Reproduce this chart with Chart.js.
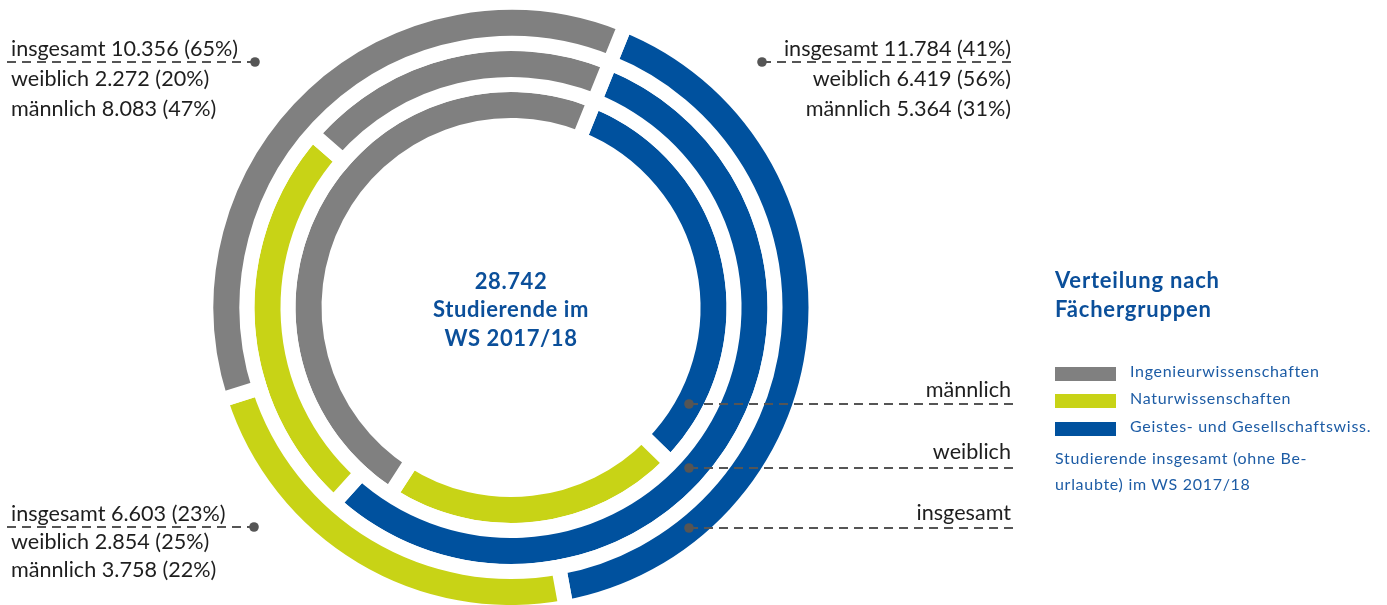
<!DOCTYPE html>
<html lang="de">
<head>
<meta charset="utf-8">
<title>Studierende nach Fächergruppen WS 2017/18</title>
<script src="https://cdn.jsdelivr.net/npm/chart.js@4.4.1/dist/chart.umd.min.js"></script>
<style>
  html, body { margin: 0; padding: 0; background: #fff; }
  body { width: 1387px; height: 605px; position: relative; overflow: hidden; font-family: Lato, "Open Sans", sans-serif; }
  #rings { position: absolute; left: 0; top: 0; }
  .t { position: absolute; white-space: nowrap; line-height: 1.2; }
  .lbl { font-size: 21.6px; color: #1e1e1e; }
  .center { font-size: 22px; font-weight: 700; color: #0b4f9a; letter-spacing: 0.6px; text-align: center; width: 300px; }
  .title { font-size: 22px; font-weight: 700; color: #0b4f9a; letter-spacing: 0.8px; }
  .leg { font-size: 16px; color: #1d5ca5; letter-spacing: 0.7px; }
  .sw { position: absolute; width: 61px; height: 14px; }
</style>
</head>
<body>
<canvas id="rings" width="1387" height="605"></canvas>
<script>
const categories = ["Ingenieurwissenschaften", "Naturwissenschaften", "Geistes- und Gesellschaftswiss."];
const colors = ["#808080", "#c8d316", "#00519e"];
const insgesamt = [10356, 6603, 11784];
const weiblich = [2272, 2854, 6419];
const maennlich = [8083, 3758, 5364];
const pctInsgesamt = [65, 23, 41];
const pctWeiblich = [20, 25, 56];
const pctMaennlich = [47, 22, 31];
const ringNames = ["insgesamt", "weiblich", "männlich"];
const total = 28742;
const semester = "WS 2017/18";
const footnote = ["Studierende insgesamt (ohne Be-", "urlaubte) im WS 2017/18"];

const fmt = (v) => String(v).replace(/\B(?=(\d{3})+(?!\d))/g, ".");

// text helper: y is the baseline
const place = (text, x, y, cls, align) => {
  const d = document.createElement("div");
  d.className = "t " + cls;
  d.textContent = text;
  document.body.appendChild(d);
  const fs = parseFloat(getComputedStyle(d).fontSize);
  d.style.top = (y - fs * 0.987) + "px";
  if (align === "right") d.style.right = (1387 - x) + "px";
  else if (align === "center") d.style.left = (x - 150) + "px";
  else d.style.left = x + "px";
  return d;
};

// chart runs clockwise: blue, green, grey
const order = [2, 1, 0];
const ring = (values) => ({
  data: order.map((i) => values[i]),
  backgroundColor: order.map((i) => colors[i]),
  borderColor: "#ffffff",
  borderWidth: 15,
  borderJoinStyle: "miter",
  clip: false,
});

const leaders = [
  { x1: 7, x2: 255, y: 62 },
  { x1: 762, x2: 1017, y: 62 },
  { x1: 7, x2: 254, y: 527 },
  { x1: 689, x2: 1017, y: 404 },
  { x1: 689, x2: 1017, y: 468 },
  { x1: 689, x2: 1017, y: 528 },
];

const decorations = {
  id: "decorations",
  afterDraw(chart) {
    const ctx = chart.ctx;
    ctx.save();
    ctx.strokeStyle = "#555";
    ctx.lineWidth = 1.8;
    ctx.setLineDash([9, 6]);
    leaders.forEach((l) => {
      ctx.beginPath();
      ctx.moveTo(l.x1, l.y);
      ctx.lineTo(l.x2, l.y);
      ctx.stroke();
    });
    ctx.setLineDash([]);
    ctx.fillStyle = "#555";
    leaders.forEach((l, i) => {
      const x = i === 0 || i === 2 ? l.x2 : l.x1;
      ctx.beginPath();
      ctx.arc(x, l.y, 4.8, 0, Math.PI * 2);
      ctx.fill();
    });
    ctx.restore();
  },
};

new Chart(document.getElementById("rings").getContext("2d"), {
  type: "doughnut",
  data: {
    labels: order.map((i) => categories[i]),
    datasets: [ring(insgesamt), ring(weiblich), ring(maennlich)],
  },
  options: {
    responsive: false,
    animation: false,
    events: [],
    rotation: 22,
    radius: 305,
    cutout: "59.67%",
    layout: { padding: { left: 0, right: 365, top: 10, bottom: 0 } },
    plugins: { legend: { display: false }, tooltip: { enabled: false } },
  },
  plugins: [decorations],
});

// value blocks next to the rings
const block = (i, x, y, step, align) => {
  place(ringNames[0] + " " + fmt(insgesamt[i]) + " (" + pctInsgesamt[i] + "%)", x, y, "lbl", align);
  place(ringNames[1] + " " + fmt(weiblich[i]) + " (" + pctWeiblich[i] + "%)", x, y + step, "lbl", align);
  place(ringNames[2] + " " + fmt(maennlich[i]) + " (" + pctMaennlich[i] + "%)", x, y + step * 2, "lbl", align);
};
block(0, 11, 57, 30, "left");
block(2, 1011, 57, 30, "right");
block(1, 11, 522, 28, "left");

// ring names on the right
place(ringNames[2], 1011, 398, "lbl", "right");
place(ringNames[1], 1011, 460, "lbl", "right");
place(ringNames[0], 1011, 521, "lbl", "right");

// centre text
place(fmt(total), 511, 290, "center", "center");
place("Studierende im", 511, 318, "center", "center");
place(semester, 511, 347, "center", "center");

// legend
place("Verteilung nach", 1055, 289, "title", "left");
place("Fächergruppen", 1055, 318, "title", "left");
const legY = [367, 394, 422];
categories.forEach((c, i) => {
  const s = document.createElement("div");
  s.className = "sw";
  s.style.left = "1055px";
  s.style.top = legY[i] + "px";
  s.style.background = colors[i];
  document.body.appendChild(s);
  place(c, 1130, legY[i] + 10, "leg", "left");
});
place(footnote[0], 1055, 464, "leg", "left");
place(footnote[1], 1055, 490, "leg", "left");
</script>
</body>
</html>
